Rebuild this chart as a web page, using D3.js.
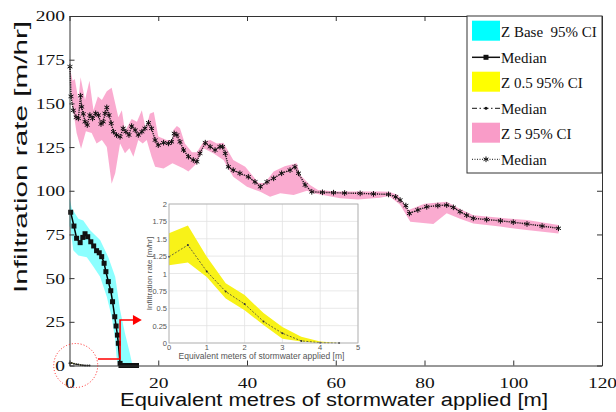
<!DOCTYPE html>
<html>
<head>
<meta charset="utf-8">
<script src="https://cdn.jsdelivr.net/npm/d3@7"></script>
<style>
  body { margin: 0; background: #fff; }
  svg { display: block; }
</style>
</head>
<body>
<div id="chart"></div>
<script>
// ---- data ----
const xTicks = [0, 20, 40, 60, 80, 100, 120];
const yTicks = [0, 25, 50, 75, 100, 125, 150, 175, 200];
const insetXTicks = [0, 1, 2, 3, 4, 5];
const insetYTicks = [0, 0.25, 0.5, 0.75, 1, 1.25, 1.5, 1.75, 2];
const insetYLabels = ['0', '0.25', '0.5', '0.75', '1', '1.25', '1.5', '1.75', '2'];

// Z Base
const zBaseMedX = [0.27, 1, 1.6, 2.4, 3, 3.5, 4.1, 4.8, 5.45, 6.1, 6.7, 7.25, 7.8, 8.2, 8.75, 9.3, 9.7, 10.2, 10.5, 10.8, 11, 11.4, 11.6, 12.1, 12.6, 13.1, 13.6, 14.1, 14.6, 15.1];
const zBaseMed = [87.7, 79.8, 72.8, 70.3, 73.3, 75.4, 73.7, 70.8, 68.4, 65.7, 64.5, 62.3, 58.5, 53.7, 48, 42.8, 36.5, 27.9, 22.6, 17.4, 12.7, 1.2, 0, 0, 0, 0, 0, 0, 0, 0];
const zBaseHiX = [0, 0.5, 2, 3.1, 4.6, 6.9, 8.75, 10.3, 11.4, 12.5, 13.6, 14.2];
const zBaseHi = [96, 90, 84, 83, 77.5, 71.8, 62, 50.8, 31.7, 18.4, 7, 0];
const zBaseLoX = [0, 0.27, 0.85, 2, 3.9, 5.4, 6.9, 8.4, 9.5, 10.3, 10.6, 11];
const zBaseLo = [80, 77.5, 66, 63, 62, 56.5, 50.8, 39.4, 27.9, 14.6, 5, 0];

// Z 0.5
const z05X = [0, 0.5, 1, 1.5, 2, 2.5, 3, 3.5, 4, 4.5];
const z05Med = [1.24, 1.41, 1.03, 0.74, 0.56, 0.31, 0.14, 0.03, 0.005, 0];
const z05Hi = [1.58, 1.69, 1.24, 0.86, 0.69, 0.43, 0.23, 0.09, 0.02, 0];
const z05Lo = [1.12, 1.16, 0.95, 0.64, 0.47, 0.26, 0.06, 0.02, 0, 0];

// Z 5
const z5MedX = [0.1, 0.34, 0.86, 1.5, 2, 2.5, 2.75, 3.1, 3.5, 4, 4.6, 5.2, 5.9, 6.5, 7.1, 7.6, 8, 8.4, 8.9, 9.4, 9.9, 10.6, 11.4, 12.1, 12.7, 13.4, 14, 14.8, 15.5, 16.3, 17, 17.8, 18.5, 19.3, 20, 21.2, 22.3, 23, 23.6, 24.2, 24.9, 25.7, 26.8, 27.9, 28.7, 29.4, 30.6, 31.7, 32.8, 33.9, 34.5, 35.1, 35.8, 36.9, 38.4, 40.3, 41.8, 43, 44.5, 46, 47.8, 49.7, 50.8, 51.6, 53.1, 54.6, 57, 59.5, 62, 65.5, 68.5, 71.9, 73.5, 74.5, 75.8, 76.6, 78.5, 80.5, 83, 85, 86.5, 88, 89.5, 91, 94, 97.1, 100, 103.1, 106.5, 110.2];
const z5Med = [171, 154, 146, 142, 141.4, 154.4, 148, 144, 139.5, 137.6, 143.3, 141.4, 144.3, 143.3, 138.2, 139.5, 144.3, 147.7, 143.3, 138.6, 133.8, 131.9, 130.9, 135.7, 133.8, 131.9, 137, 134.7, 131.9, 133.8, 135.7, 138.9, 135.7, 129, 126.1, 127.5, 127.1, 128, 132.8, 131.9, 128, 123.3, 119.5, 117.6, 116.6, 121.4, 127.5, 125.2, 123.3, 125.2, 125.2, 121.4, 113.7, 111.8, 110, 108, 105.1, 102.3, 105.1, 107.1, 110, 111.8, 113.7, 110, 103.3, 99.4, 99.1, 98.9, 98.7, 98.5, 98.2, 97.9, 96.5, 94.7, 91.5, 87, 89, 90.8, 91.5, 91.8, 90.5, 88, 86, 84.2, 83.5, 82.8, 82, 81, 79.8, 78.5];
const z5HiX = [0, 0.7, 1.2, 2, 2.5, 3.5, 4.5, 5.4, 6.4, 7.3, 8.4, 9.5, 11, 11.8, 12.5, 14, 15.2, 16.3, 17.2, 18.1, 19, 20, 21.9, 23.2, 23.4, 24.2, 24.9, 26, 27.6, 28.7, 30.2, 31.7, 33.2, 34.7, 36.9, 39.6, 42.6, 44, 46, 48.5, 51.2, 52, 54.2, 56, 60, 65, 70, 72, 74, 76.4, 80, 85, 88, 91, 97, 103.1, 110.2];
const z5Hi = [171, 163, 164, 152, 165, 152, 163, 146, 154, 152, 157, 159, 142, 146, 134, 141, 139.5, 146, 135, 144, 145, 131, 129, 129, 134.7, 137, 135.7, 127, 122, 122, 128, 129, 127, 127.5, 117.6, 113.7, 104.5, 104.5, 111, 114, 115.7, 109, 103.3, 100.5, 99.5, 99.5, 99.5, 99.4, 97.5, 89, 92.5, 93.7, 89.5, 86, 84.5, 83.2, 80.4];
const z5LoX = [0, 0.5, 1.6, 2.6, 3.7, 5, 6.1, 7.3, 8.4, 9.5, 10.3, 11.4, 12.5, 13.5, 14.4, 15.5, 16.5, 17.4, 18.5, 19.3, 21.2, 23.2, 25.7, 26.8, 28.7, 30.2, 32.4, 34.7, 36.9, 40, 43, 45.2, 47.5, 50.5, 53.5, 55, 61, 65, 70, 72, 74.5, 76.8, 82, 85, 88, 91, 97, 103, 110.2];
const z5Lo = [171, 152, 133, 124, 134, 133, 127, 129, 125, 104, 110, 127, 121.4, 124.3, 119.5, 129, 127, 129, 119.5, 113.7, 112.8, 115.7, 112.8, 111, 115.7, 124.3, 121.4, 117.6, 108, 102.3, 99.4, 96.6, 98.5, 97.5, 100, 98.5, 95.7, 95, 96, 97, 92, 82.3, 81, 87.1, 84, 81.3, 79.5, 77.5, 75.6];

const legendItems = ['Z Base\u00a0 95% CI', 'Median', 'Z 0.5 95% CI', 'Median', 'Z 5 95% CI', 'Median'];

const CYAN = '#00ffff';
const YELLOW = '#ffff00';
const PINK = '#f99cc8';
const SERIF = '"Liberation Serif", "Times New Roman", Times, serif';
const SANS = '"Liberation Sans", Arial, Helvetica, sans-serif';

const W = 616, H = 412;
const TICK_STRETCH = 1.3;

function zip(xs, ys) {
  return xs.map(function(v, i) { return [v, ys[i]]; });
}

function bandPath(x, y, hiX, hi, loX, lo) {
  var pts = zip(hiX, hi).concat(zip(loX, lo).reverse());
  return d3.line().x(function(d) { return x(d[0]); }).y(function(d) { return y(d[1]); })(pts) + 'Z';
}

var svg = d3.select('#chart').append('svg').attr('width', W).attr('height', H);

var x = d3.scaleLinear().domain([0, 120]).range([69.5, 602]);
var y = d3.scaleLinear().domain([0, 200]).range([365.5, 16]);
var line = d3.line().x(function(d) { return x(d[0]); }).y(function(d) { return y(d[1]); });

// ---- bands ----
svg.append('path').attr('d', bandPath(x, y, z5HiX, z5Hi, z5LoX, z5Lo))
  .attr('fill', PINK).attr('fill-opacity', 0.85);
svg.append('path').attr('d', bandPath(x, y, zBaseHiX, zBaseHi, zBaseLoX, zBaseLo))
  .attr('fill', CYAN).attr('fill-opacity', 0.45);
svg.append('path').attr('d', bandPath(x, y, z05X, z05Hi, z05X, z05Lo))
  .attr('fill', YELLOW);

// ---- medians ----
svg.append('path').attr('d', line(zip(z5MedX, z5Med)))
  .attr('fill', 'none').attr('stroke', '#111').attr('stroke-width', 1.4)
  .attr('stroke-dasharray', '1.2,1');
svg.selectAll('.z5m').data(zip(z5MedX, z5Med)).enter().append('path')
  .attr('class', 'z5m')
  .attr('transform', function(d) { return 'translate(' + x(d[0]) + ',' + y(d[1]) + ')'; })
  .attr('d', d3.symbol(d3.symbolAsterisk, 22)())
  .attr('fill', 'none').attr('stroke', '#111').attr('stroke-width', 1);

svg.append('path').attr('d', line(zip(zBaseMedX, zBaseMed)))
  .attr('fill', 'none').attr('stroke', '#000').attr('stroke-width', 1.5);
svg.selectAll('.zbm').data(zip(zBaseMedX, zBaseMed)).enter().append('rect')
  .attr('class', 'zbm')
  .attr('x', function(d) { return x(d[0]) - 2.5; })
  .attr('y', function(d) { return y(d[1]) - 2.5; })
  .attr('width', 5).attr('height', 5).attr('fill', '#111');

svg.append('path').attr('d', line(zip(z05X, z05Med)))
  .attr('fill', 'none').attr('stroke', '#222').attr('stroke-width', 1)
  .attr('stroke-dasharray', '3,1.5,1,1.5');
svg.selectAll('.z05m').data(zip(z05X, z05Med)).enter().append('circle')
  .attr('class', 'z05m')
  .attr('cx', function(d) { return x(d[0]); })
  .attr('cy', function(d) { return y(d[1]); })
  .attr('r', 1).attr('fill', '#222');

// ---- axes (box, inward ticks) ----
var axB = svg.append('g').attr('transform', 'translate(0,' + y(0) + ')')
  .call(d3.axisBottom(x).tickValues(xTicks).tickSizeInner(-5).tickSizeOuter(0).tickPadding(11));
var axL = svg.append('g').attr('transform', 'translate(' + x(0) + ',0)')
  .call(d3.axisLeft(y).tickValues(yTicks).tickSizeInner(-5).tickSizeOuter(0).tickPadding(3.5));
svg.append('g').attr('transform', 'translate(0,' + y(200) + ')')
  .call(d3.axisTop(x).tickValues(xTicks).tickSizeInner(-5).tickSizeOuter(0).tickFormat(''));
svg.append('g').attr('transform', 'translate(' + x(120) + ',0)')
  .call(d3.axisRight(y).tickValues(yTicks).tickSizeInner(-5).tickSizeOuter(0).tickFormat(''));

svg.selectAll('.domain, .tick line').attr('stroke', '#333');
[axB, axL].forEach(function(ax) {
  ax.attr('font-family', null);
  ax.selectAll('text')
    .style('font-family', SERIF)
    .style('font-size', '15px')
    .attr('fill', '#111')
    .attr('transform', 'scale(' + TICK_STRETCH + ',1)');
});
axL.selectAll('text').attr('dy', '0.33em');
axB.selectAll('text').attr('dy', '0.75em');

// ---- axis titles ----
svg.append('text').style('font-family', SANS)
  .attr('x', 334).attr('y', 406).attr('text-anchor', 'middle')
  .attr('textLength', 428).attr('lengthAdjust', 'spacingAndGlyphs')
  .style('font-size', '18px').attr('fill', '#111')
  .text('Equivalent metres of stormwater applied [m]');
svg.append('text').style('font-family', SANS)
  .attr('transform', 'translate(27,157) rotate(-90)').attr('text-anchor', 'middle')
  .attr('textLength', 272).attr('lengthAdjust', 'spacingAndGlyphs')
  .style('font-size', '18px').attr('fill', '#111')
  .text('Infiltration rate [m/hr]');

// ---- red annotation ----
var red = svg.append('g');
red.append('circle').attr('cx', x(1.4)).attr('cy', y(0)).attr('r', 22)
  .attr('fill', 'none').attr('stroke', '#ff2020').attr('stroke-width', 1)
  .attr('stroke-dasharray', '1,2');
red.append('path')
  .attr('d', 'M' + x(6.4) + ',' + y(3.7) + 'H' + x(11.4) + 'V' + y(26) + 'H' + x(14.5))
  .attr('fill', 'none').attr('stroke', '#ff0000').attr('stroke-width', 1.6);
red.append('path')
  .attr('d', 'M' + x(14.3) + ',' + (y(26) - 5) + 'L' + x(16.3) + ',' + y(26) + 'L' + x(14.3) + ',' + (y(26) + 5) + 'Z')
  .attr('fill', '#ff0000');

// ---- inset ----
var xi = d3.scaleLinear().domain([0, 5]).range([169, 358]);
var yi = d3.scaleLinear().domain([0, 2]).range([343, 204]);
var inset = svg.append('g');
inset.append('rect').attr('x', xi(0)).attr('y', yi(2))
  .attr('width', xi(5) - xi(0)).attr('height', yi(0) - yi(2)).attr('fill', '#fff');
inset.selectAll('.gx').data(insetXTicks).enter().append('line')
  .attr('x1', function(d) { return xi(d); }).attr('x2', function(d) { return xi(d); })
  .attr('y1', yi(0)).attr('y2', yi(2)).attr('stroke', '#e2e2e2').attr('stroke-width', 0.8);
inset.selectAll('.gy').data(insetYTicks).enter().append('line')
  .attr('y1', function(d) { return yi(d); }).attr('y2', function(d) { return yi(d); })
  .attr('x1', xi(0)).attr('x2', xi(5)).attr('stroke', '#e2e2e2').attr('stroke-width', 0.8);

var iline = d3.line().x(function(d) { return xi(d[0]); }).y(function(d) { return yi(d[1]); });
inset.append('path').attr('d', bandPath(xi, yi, z05X, z05Hi, z05X, z05Lo)).attr('fill', '#f8f218');
inset.append('path').attr('d', iline(zip(z05X, z05Med)))
  .attr('fill', 'none').attr('stroke', '#444').attr('stroke-width', 0.8)
  .attr('stroke-dasharray', '2,1.5');
inset.selectAll('.im').data(zip(z05X, z05Med)).enter().append('circle')
  .attr('cx', function(d) { return xi(d[0]); }).attr('cy', function(d) { return yi(d[1]); })
  .attr('r', 1).attr('fill', '#333');

inset.append('rect').attr('x', xi(0)).attr('y', yi(2))
  .attr('width', xi(5) - xi(0)).attr('height', yi(0) - yi(2))
  .attr('fill', 'none').attr('stroke', '#aaa').attr('stroke-width', 0.8);

inset.selectAll('.ixl').data(insetXTicks).enter().append('text').style('font-family', SANS)
  .attr('x', function(d) { return xi(d); }).attr('y', yi(0) + 6.5)
  .attr('text-anchor', 'middle').style('font-size', '7.5px').attr('fill', '#555')
  .text(function(d) { return d; });
inset.selectAll('.iyl').data(insetYTicks).enter().append('text').style('font-family', SANS)
  .attr('x', xi(0) - 2).attr('y', function(d) { return yi(d) + 3; })
  .attr('text-anchor', 'end').style('font-size', '7.5px').attr('fill', '#555')
  .text(function(d, i) { return insetYLabels[i]; });
inset.append('text').style('font-family', SANS)
  .attr('x', (xi(0) + xi(5)) / 2 - 2).attr('y', 358.5).attr('text-anchor', 'middle')
  .style('font-size', '8.5px').attr('fill', '#555')
  .text('Equivalent meters of stormwater applied [m]');
inset.append('text').style('font-family', SANS)
  .attr('transform', 'translate(152,' + ((yi(0) + yi(2)) / 2) + ') rotate(-90)')
  .attr('text-anchor', 'middle').style('font-size', '8px').attr('fill', '#555')
  .text('Infiltration rate [m/hr]');

// ---- legend ----
var lg = svg.append('g');
lg.append('rect').attr('x', 467).attr('y', y(200)).attr('width', x(120) - 467).attr('height', 173 - y(200))
  .attr('fill', '#fff').attr('stroke', '#333').attr('stroke-width', 1);
var rowY = [30.7, 57.3, 81.7, 108.3, 132.7, 159.3];
var patchCols = [CYAN, null, YELLOW, null, PINK, null];
legendItems.forEach(function(name, i) {
  var cy = rowY[i];
  if (patchCols[i]) {
    lg.append('rect').attr('x', 472).attr('y', cy - 10).attr('width', 28).attr('height', 20)
      .attr('fill', patchCols[i]);
  } else {
    var ln = lg.append('line').attr('x1', 472).attr('x2', 500).attr('y1', cy).attr('y2', cy)
      .attr('stroke', '#111');
    if (i === 1) {
      ln.attr('stroke-width', 1.5);
      lg.append('rect').attr('x', 483.5).attr('y', cy - 2.5).attr('width', 5).attr('height', 5).attr('fill', '#111');
    } else if (i === 3) {
      ln.attr('stroke-width', 1).attr('stroke-dasharray', '5,2.5,1.5,2.5');
      lg.append('circle').attr('cx', 486).attr('cy', cy).attr('r', 1.5).attr('fill', '#111');
    } else {
      ln.attr('stroke-width', 1).attr('stroke-dasharray', '1,1.5');
      lg.append('path').attr('transform', 'translate(486,' + cy + ')')
        .attr('d', d3.symbol(d3.symbolAsterisk, 22)()).attr('fill', 'none').attr('stroke', '#111');
    }
  }
  lg.append('text').attr('x', 501).attr('y', cy + 6)
    .style('font-family', SERIF)
    .style('font-size', '15px').attr('fill', '#111').text(name);
});
</script>
</body>
</html>
